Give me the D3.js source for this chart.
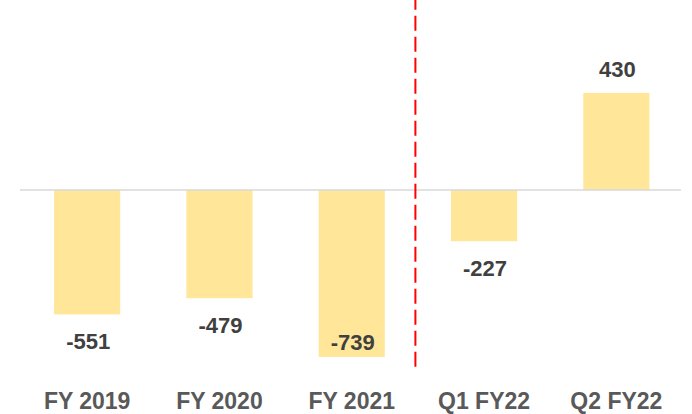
<!DOCTYPE html>
<html>
<head>
<meta charset="utf-8">
<script src="https://cdn.jsdelivr.net/npm/d3@7"></script>
<style>
  body { margin: 0; background: #fff; }
  text { font-family: "Liberation Sans", Arial, sans-serif; font-weight: bold; }
</style>
</head>
<body>
<div id="canvas"></div>
<script>
var categories = ['FY 2019', 'FY 2020', 'FY 2021', 'Q1 FY22', 'Q2 FY22'];
var values = [-551, -479, -739, -227, 430];
var valueLabels = ['-551', '-479', '-739', '-227', '430'];

var WIDTH = 692, HEIGHT = 414;
var ZERO_Y = 190, PX_PER_UNIT = 0.2258;
var LABEL_MAX_Y = 350;

var svg = d3.select('#canvas').append('svg')
    .attr('width', WIDTH)
    .attr('height', HEIGHT);

var x = d3.scaleBand()
    .domain(categories)
    .range([21, 682.5])
    .paddingInner(0.5)
    .paddingOuter(0.25);

var y = d3.scaleLinear()
    .domain([-800, 600])
    .range([ZERO_Y + 800 * PX_PER_UNIT, ZERO_Y - 600 * PX_PER_UNIT]);

// bars
svg.selectAll('.bar')
    .data(values)
    .enter()
    .append('rect')
    .attr('class', 'bar')
    .attr('x', function(d, i) { return x(categories[i]); })
    .attr('y', function(d) { return y(Math.max(0, d)); })
    .attr('width', x.bandwidth())
    .attr('height', function(d) { return Math.abs(y(d) - y(0)); })
    .attr('fill', '#FFE699');

// zero line
svg.append('line')
    .attr('x1', 20)
    .attr('x2', 681)
    .attr('y1', y(0))
    .attr('y2', y(0))
    .attr('stroke', '#D9D9D9')
    .attr('stroke-width', 1.5);

// divider between years and quarters (sits a bit left of the gap centre)
var divX = (x(categories[2]) + x.bandwidth() + x(categories[3])) / 2 - 2.5;
svg.append('line')
    .attr('x1', divX)
    .attr('x2', divX)
    .attr('y1', 0)
    .attr('y2', 368)
    .attr('stroke', '#FF0000')
    .attr('stroke-width', 2)
    .attr('stroke-dasharray', '15,6')
    .attr('stroke-dashoffset', 5.3);

// value labels
svg.selectAll('.value')
    .data(values)
    .enter()
    .append('text')
    .attr('class', 'value')
    .attr('x', function(d, i) { return x(categories[i]) + x.bandwidth() / 2 + 1; })
    .attr('y', function(d) {
        if (d >= 0) return y(d) - 16;
        return Math.min(y(d) + 34.5, LABEL_MAX_Y);
    })
    .attr('text-anchor', 'middle')
    .attr('fill', '#404040')
    .style('font-size', '22px')
    .text(function(d, i) { return valueLabels[i]; });

// category labels
svg.selectAll('.cat')
    .data(categories)
    .enter()
    .append('text')
    .attr('class', 'cat')
    .attr('x', function(d) { return x(d) + x.bandwidth() / 2; })
    .attr('y', 409)
    .attr('text-anchor', 'middle')
    .attr('fill', '#595959')
    .style('font-size', '23px')
    .text(function(d) { return d; });
</script>
</body>
</html>
